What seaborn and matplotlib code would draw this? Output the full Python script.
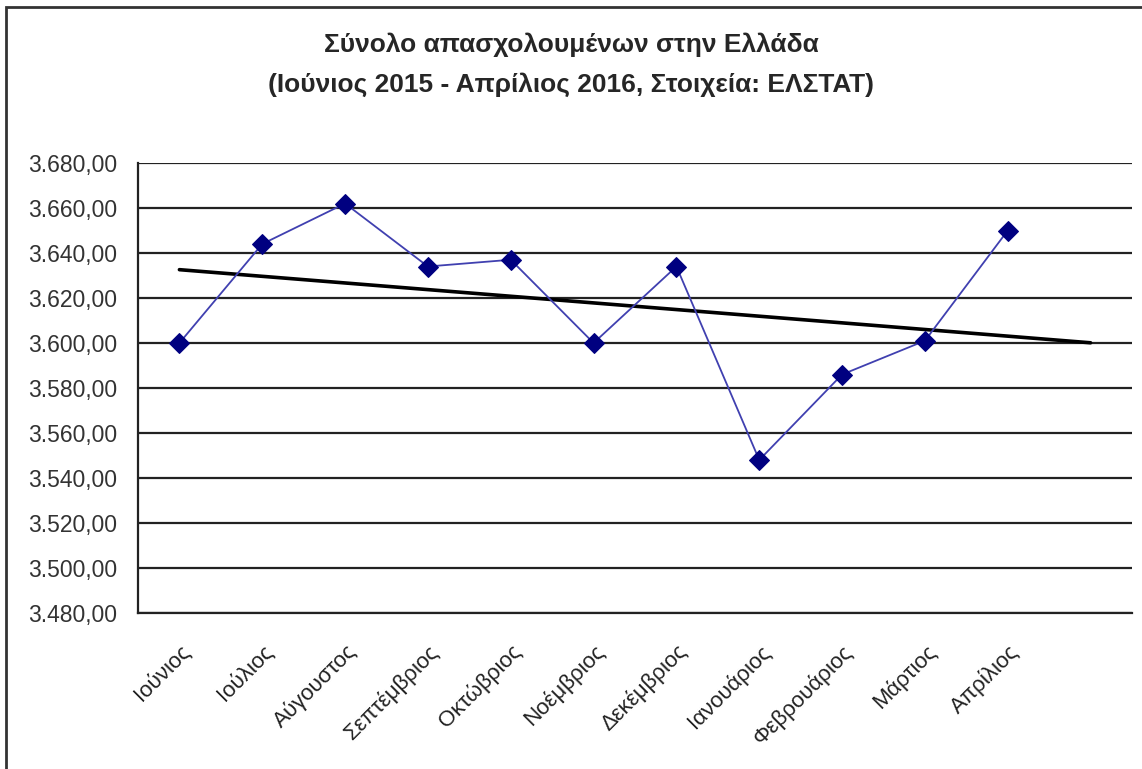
import numpy as np
import pandas as pd
import matplotlib
matplotlib.use('Agg')
import matplotlib.pyplot as plt
import seaborn as sns
from matplotlib.ticker import FuncFormatter, FixedLocator
from matplotlib.patches import Rectangle

months = ['Ιούνιος', 'Ιούλιος', 'Αύγουστος', 'Σεπτέμβριος', 'Οκτώβριος', 'Νοέμβριος',
          'Δεκέμβριος', 'Ιανουάριος', 'Φεβρουάριος', 'Μάρτιος', 'Απρίλιος']
employed = [3600, 3644, 3662, 3634, 3637, 3600, 3634, 3548, 3586, 3601, 3650]
n_slots = 12  # the chart keeps one empty slot after April for the trend line

sns.set_style('white')
plt.rcParams['font.family'] = ['Liberation Sans', 'DejaVu Sans']

df = pd.DataFrame({'pos': np.arange(len(months)), 'month': months, 'value': employed})

fig = plt.figure(figsize=(11.42, 7.69), dpi=100)
ax = fig.add_axes([138 / 1142, 1 - 613 / 769, (1132 - 138) / 1142, (613 - 163) / 769])

# grid lines every 20
for v in range(3480, 3681, 20):
    ax.axhline(v, color='#222222', lw=1.6, zorder=1)

sns.lineplot(data=df, x='pos', y='value', ax=ax, color='#4040b0', lw=1.3,
             marker='D', markersize=10, markerfacecolor='#000080',
             markeredgecolor='#000080', zorder=3)

# linear trend line, extended over all slots (like Excel's forecast)
slope, icpt = np.polyfit(df['pos'], df['value'], 1)
tx = np.array([0, n_slots - 1])
ax.plot(tx, icpt + slope * tx, color='black', lw=2.6, zorder=2)

ax.set_xlim(-0.5, n_slots - 0.5)
ax.set_ylim(3480, 3680)
ax.set_yticks(range(3480, 3681, 20))
ax.yaxis.set_major_formatter(FuncFormatter(
    lambda v, p: f'{v:,.2f}'.replace(',', 'X').replace('.', ',').replace('X', '.')))

ax.set_xticks(np.arange(len(months)))
ax.set_xticklabels(months, rotation=45, ha='right', rotation_mode='anchor')
ax.xaxis.set_minor_locator(FixedLocator(np.arange(-0.5, n_slots, 1)))
ax.tick_params(axis='x', which='major', length=0, pad=20, labelsize=16, labelcolor='#222222')
ax.tick_params(axis='x', which='minor', length=6, width=1.6, color='#222222', direction='out')
ax.tick_params(axis='y', length=6, width=1.6, color='#222222', direction='out',
               labelsize=16.5, labelcolor='#333333', pad=9)
ax.set_xlabel('')
ax.set_ylabel('')

for s in ['top', 'right']:
    ax.spines[s].set_visible(False)
for s in ['left', 'bottom']:
    ax.spines[s].set_color('#222222')
    ax.spines[s].set_linewidth(1.6)

title_font = ['Liberation Sans Narrow', 'Liberation Sans', 'DejaVu Sans']
fig.text(0.5, 1 - 45 / 769, 'Σύνολο απασχολουμένων στην Ελλάδα',
         ha='center', va='center', fontsize=19, fontweight='bold', family=title_font)
fig.text(0.5, 1 - 85 / 769, '(Ιούνιος 2015 - Απρίλιος 2016, Στοιχεία: ΕΛΣΤΑΤ)',
         ha='center', va='center', fontsize=19, fontweight='bold', family=title_font)

# chart area border (cut at right and bottom like the screenshot)
fig.patches.append(Rectangle((6 / 1142, -0.1), 1.2, 1.1 - 7 / 769, transform=fig.transFigure,
                             fill=False, edgecolor='#333333', lw=2))

fig.savefig('out.png', dpi=100)
